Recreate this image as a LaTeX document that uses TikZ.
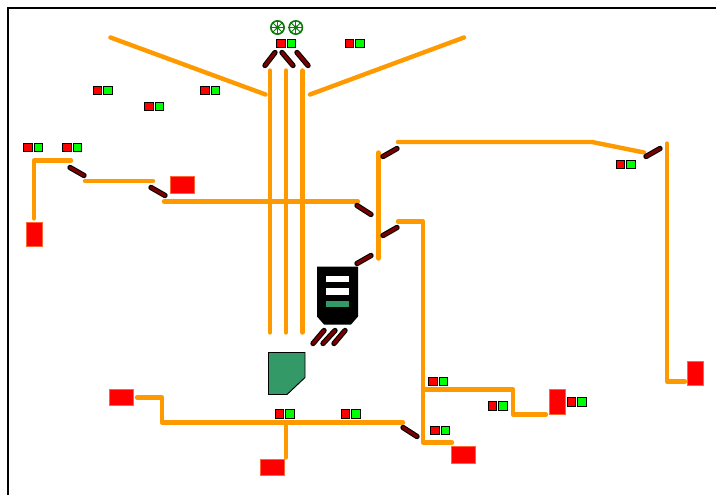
\documentclass[tikz,border=0pt]{standalone}
\usetikzlibrary{positioning}
\definecolor{trackorange}{HTML}{FF9900}
\definecolor{switchred}{HTML}{7A0000}
\definecolor{platgreen}{HTML}{339966}
\definecolor{blockedge}{HTML}{FF6633}
\definecolor{wheelgreen}{HTML}{0A7A0A}
\begin{document}
\begin{tikzpicture}[
  x=0.75pt, y=-0.75pt,
  track/.style={draw=trackorange, line width=3.3pt, line cap=round, line join=round},
  switchbar/.style={draw=switchred, line width=2.4pt, line cap=round,
                    preaction={draw=black, line width=4pt, line cap=round}},
  block/.style={draw=blockedge, fill=red, line width=0.6pt, inner sep=0pt},
  lamp/.style={draw=black, line width=0.9pt, inner sep=0pt, minimum size=6.4pt},
  wheel/.style={draw=wheelgreen, line width=1.2pt, circle, inner sep=0pt, minimum size=10pt},
  bar/.style={inner sep=0pt, minimum width=17pt, minimum height=5.2pt},
]
\useasboundingbox (0,-0.5) rectangle (716,494.5);

% Frame
\draw[line width=1.5pt] (716,8) -- (8,8) -- (8,495);

% Tracks, top
\draw[track] (110.5,37) -- (265.5,94);
\draw[track] (310,94) -- (464,37);
\foreach \x in {270,286,302.5}
  \draw[track] (\x,70) -- (\x,332);

% Tracks, left and middle
\draw[track] (34,218) -- (34,160) -- (71,160);
\draw[track] (85,180.5) -- (153,180.5);
\draw[track] (164,201) -- (358,201);
\draw[track] (378.5,152) -- (378.5,258);
\draw[track] (398,141.5) -- (592,141.5) -- (644,152);
\draw[track] (667,143) -- (667,381) -- (685,381);

% Tracks, lower right
\draw[track] (398,221) -- (423,221) -- (423,442) -- (452,442);
\draw[track] (423,389) -- (513,389) -- (513,414) -- (546,414);

% Tracks, bottom
\draw[track] (137,397) -- (162,397) -- (162,422) -- (403,422);
\draw[track] (286,422) -- (286,457);

% Switches
\foreach \xa/\ya/\xb/\yb in {265/65/275/52, 282/52/293/65, 297/52/308/65,
    70/167/84/175, 151/187/165/195, 357/205/371/214, 383/156/397/148,
    646/156/660/148, 383/235/397/227, 357/263/371/255, 403/427/417/436,
    313/343/324/330, 323/343/335/330, 334/343/345/330}
  \draw[switchbar] (\xa,\ya) -- (\xb,\yb);

% Red blocks
\node[block, minimum width=18.4pt, minimum height=12.4pt] (blockA) at (182.5,184.5) {};
\node[block, minimum width=12.4pt, minimum height=18pt] (blockB) at (34.5,234) {};
\node[block, minimum width=12.4pt, minimum height=18pt] (blockC) at (695.5,373) {};
\node[block, minimum width=12.4pt, minimum height=18.4pt] (blockD) at (557.5,401.5) {};
\node[block, minimum width=18.4pt, minimum height=12.4pt] (blockE) at (463.5,454.5) {};
\node[block, minimum width=18.4pt, minimum height=12.4pt] (blockF) at (121.5,397) {};
\node[block, minimum width=18.4pt, minimum height=12.4pt] (blockG) at (272.5,467) {};

% Signals
\foreach \x/\y [count=\i] in {281/43, 349.5/43, 97.5/90, 149/106, 205/90,
    28/147, 67/147, 620.5/164, 433/381, 492.5/405.5, 571.5/401.5, 435/430,
    279.5/413.5, 345.5/413.5}{
  \node[lamp, fill=red] (sigr\i) at (\x,\y) {};
  \node[lamp, fill=green, right=0.6pt of sigr\i] (sigg\i) {};
}

% Wheels
\foreach \x [count=\i] in {277.5,295.8}{
  \node[wheel] (wheel\i) at (\x,27) {};
  \foreach \a in {0,45,...,315}
    \draw[wheelgreen, line width=0.7pt] (wheel\i.center) -- (wheel\i.\a);
  \fill[wheelgreen] (wheel\i.center) circle (1.6pt);
}

% Green platform
\draw[fill=platgreen, line width=0.7pt] (268.5,352) -- (305,352) -- (305,377) -- (287,394) -- (268.5,394) -- cycle;

% Black building
\fill (317,266) -- (358,266) -- (358,316) -- (351,324) -- (324,324) -- (317,316) -- cycle;
\node[bar, fill=white] (barA) at (337.5,278.5) {};
\node[bar, fill=white] (barB) at (337.5,291) {};
\node[bar, fill=platgreen] (barC) at (337.5,303.5) {};

\end{tikzpicture}
\end{document}
